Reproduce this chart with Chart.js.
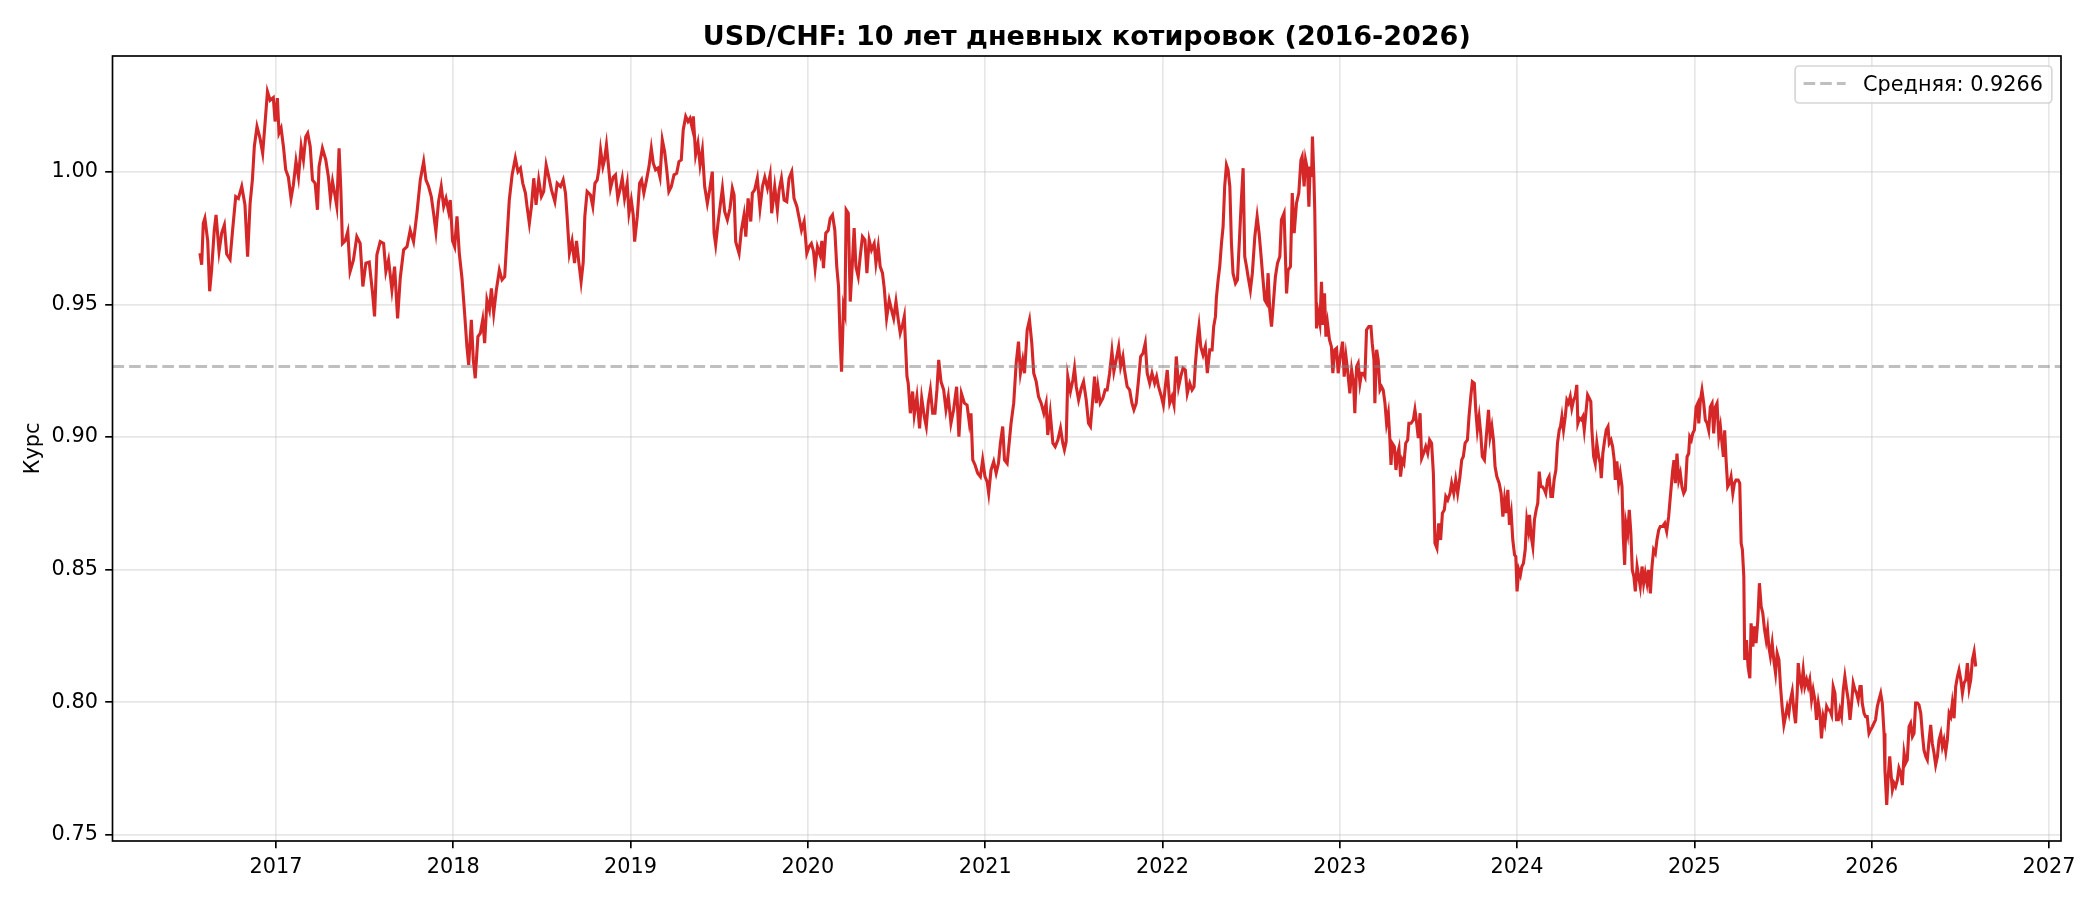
<!DOCTYPE html>
<html>
<head>
<meta charset="utf-8">
<script src="https://cdn.jsdelivr.net/npm/chart.js@4.4.1/dist/chart.umd.min.js"></script>
<style>
html,body{margin:0;padding:0;background:#ffffff;}
#wrap{width:2100px;height:900px;position:relative;}
canvas{display:block;}
</style>
</head>
<body>
<div id="wrap"><canvas id="c" width="2100" height="900"></canvas></div>
<script>
const TITLE = 'USD/CHF: 10 лет дневных котировок (2016-2026)';
const Y_LABEL = 'Курс';
const MEAN = 0.9266;
const MEAN_LABEL = 'Средняя: 0.9266';
const xTicks = [2017, 2018, 2019, 2020, 2021, 2022, 2023, 2024, 2025, 2026, 2027];
const yTicks = [0.75, 0.80, 0.85, 0.90, 0.95, 1.00];
const X_MIN = 2016.078, X_MAX = 2027.068;
const Y_MIN = 0.7477, Y_MAX = 1.0437;

// decimal-year dates of the quotes
const dates = [
2016.571,2016.581,2016.590,2016.599,2016.615,2016.626,2016.637,2016.652,2016.662,2016.679,
2016.694,2016.709,2016.722,2016.741,2016.754,2016.773,2016.788,2016.807,2016.825,2016.840,
2016.854,2016.867,2016.878,2016.893,2016.910,2016.925,2016.938,2016.952,2016.967,2016.985,
2016.995,2017.008,2017.017,2017.029,2017.042,2017.055,2017.070,2017.085,2017.098,2017.113,
2017.127,2017.142,2017.155,2017.168,2017.179,2017.193,2017.206,2017.221,2017.234,2017.243,
2017.262,2017.281,2017.296,2017.307,2017.319,2017.334,2017.343,2017.356,2017.366,2017.375,
2017.390,2017.405,2017.418,2017.437,2017.456,2017.475,2017.490,2017.507,2017.526,2017.545,
2017.556,2017.569,2017.588,2017.607,2017.620,2017.635,2017.654,2017.669,2017.686,2017.701,
2017.720,2017.739,2017.757,2017.776,2017.795,2017.814,2017.833,2017.846,2017.861,2017.876,
2017.889,2017.902,2017.917,2017.932,2017.946,2017.959,2017.974,2017.983,2017.996,2018.008,
2018.021,2018.034,2018.049,2018.064,2018.077,2018.087,2018.102,2018.113,2018.124,2018.139,
2018.153,2018.166,2018.177,2018.190,2018.204,2018.215,2018.228,2018.243,2018.260,2018.275,
2018.290,2018.303,2018.316,2018.332,2018.350,2018.365,2018.379,2018.392,2018.407,2018.416,
2018.429,2018.441,2018.454,2018.467,2018.482,2018.497,2018.510,2018.524,2018.539,2018.554,
2018.573,2018.586,2018.605,2018.620,2018.633,2018.642,2018.655,
2018.670,2018.684,2018.695,2018.708,2018.721,2018.733,2018.742,2018.755,2018.774,2018.787,
2018.799,2018.812,2018.821,2018.831,2018.844,2018.853,2018.864,2018.874,2018.887,2018.902,
2018.915,2018.928,2018.940,2018.953,2018.966,2018.981,2018.991,2019.004,2019.015,2019.023,
2019.038,2019.051,2019.062,2019.075,2019.090,2019.104,2019.117,2019.128,2019.141,2019.154,
2019.166,2019.179,2019.192,2019.203,2019.216,2019.230,2019.245,2019.260,2019.273,2019.286,
2019.297,2019.311,2019.324,2019.335,2019.348,2019.354,2019.367,2019.380,2019.392,2019.405,
2019.418,2019.433,2019.446,2019.461,2019.471,2019.480,2019.493,2019.505,2019.518,2019.531,
2019.546,2019.561,2019.574,2019.584,2019.593,2019.612,2019.625,2019.640,2019.650,2019.663,
2019.678,2019.687,2019.700,2019.715,2019.730,2019.744,2019.757,2019.772,2019.787,2019.796,
2019.813,2019.828,2019.838,2019.851,2019.866,2019.881,2019.894,2019.909,2019.922,2019.938,
2019.951,2019.964,2019.979,2019.994,2020.007,2020.020,2020.032,2020.041,2020.054,2020.069,
2020.079,2020.088,2020.101,2020.115,2020.126,2020.139,2020.152,2020.163,2020.173,2020.182,
2020.190,2020.201,2020.209,2020.216,2020.228,2020.239,2020.250,2020.261,2020.271,2020.284,
2020.295,2020.308,2020.322,2020.333,2020.346,2020.359,2020.374,2020.384,2020.397,2020.408,
2020.421,2020.431,2020.444,2020.459,2020.472,2020.484,2020.497,2020.510,2020.521,2020.534,
2020.544,
2020.548,2020.559,2020.566,2020.578,2020.591,2020.600,2020.615,2020.630,2020.642,2020.657,
2020.668,2020.679,2020.691,2020.704,2020.717,2020.728,2020.738,2020.751,2020.766,2020.779,
2020.792,2020.807,2020.822,2020.839,2020.852,2020.866,2020.883,2020.898,2020.911,2020.920,
2020.930,2020.943,2020.958,2020.973,2020.986,2020.999,2021.011,2021.020,2021.033,2021.048,
2021.062,2021.075,2021.086,2021.099,2021.109,2021.124,2021.137,2021.146,2021.161,2021.175,
2021.188,2021.199,2021.212,2021.222,2021.237,2021.250,2021.263,2021.274,2021.288,2021.301,
2021.316,2021.331,2021.344,2021.353,2021.367,2021.382,2021.395,2021.410,2021.425,2021.438,
2021.447,2021.457,2021.466,2021.481,2021.495,2021.504,2021.514,2021.527,2021.542,2021.555,
2021.570,2021.583,2021.594,2021.608,2021.617,2021.627,2021.636,2021.649,2021.664,2021.677,
2021.688,2021.702,2021.715,2021.726,2021.739,2021.753,2021.764,2021.777,2021.786,2021.801,
2021.815,2021.828,2021.839,2021.852,2021.865,2021.877,2021.890,2021.903,2021.914,2021.928,
2021.941,2021.956,2021.967,2021.978,2021.994,2022.005,2022.016,2022.027,2022.041,2022.054,
2022.065,2022.078,2022.091,2022.103,2022.116,2022.129,2022.140,2022.154,2022.167,2022.178,
2022.186,2022.197,2022.206,2022.216,2022.229,2022.242,2022.253,2022.267,2022.280,2022.289,
2022.299,2022.304,2022.314,2022.323,2022.333,2022.342,2022.351,2022.361,2022.370,2022.380,
2022.389,2022.398,2022.412,2022.423,2022.436,2022.445,2022.455,2022.464,2022.474,2022.483,
2022.496,2022.507,2022.521,2022.534,2022.545,2022.555,2022.564,2022.577,2022.587,2022.596,
2022.605,2022.615,2022.624,2022.637,2022.649,2022.662,2022.671,2022.686,2022.700,2022.709,
2022.722,2022.732,2022.743,2022.756,2022.769,2022.781,
2022.788,2022.799,2022.807,2022.818,2022.826,2022.833,2022.841,2022.846,2022.854,2022.859,
2022.863,2022.869,2022.878,2022.888,2022.897,2022.905,2022.914,2022.922,2022.931,2022.942,
2022.953,2022.961,2022.972,2022.982,2022.991,2023.003,2023.016,2023.025,2023.035,2023.044,
2023.057,2023.067,2023.078,2023.085,2023.095,2023.104,2023.114,2023.123,2023.133,2023.142,
2023.151,2023.164,2023.176,2023.183,2023.193,2023.198,2023.208,2023.217,2023.227,2023.236,
2023.245,2023.255,2023.264,2023.274,2023.283,2023.289,2023.296,2023.308,2023.317,2023.327,
2023.334,2023.343,2023.353,2023.362,2023.372,2023.383,2023.390,2023.402,2023.415,2023.424,
2023.434,2023.443,2023.453,2023.462,2023.473,2023.485,2023.496,2023.507,2023.518,2023.528,
2023.537,2023.548,2023.558,2023.569,2023.579,2023.590,2023.598,2023.609,2023.622,2023.631,
2023.643,2023.654,2023.665,2023.678,2023.688,2023.697,2023.707,2023.720,2023.729,2023.739,
2023.748,2023.759,2023.767,2023.776,2023.786,2023.795,2023.804,2023.816,2023.825,2023.839,
2023.848,2023.858,2023.867,2023.876,2023.886,2023.899,2023.910,2023.920,2023.929,2023.937,
2023.948,2023.957,2023.967,2023.976,2023.986,2023.993,2024.000,2024.010,2024.019,2024.027,
2024.036,2024.046,2024.055,2024.064,2024.070,2024.080,2024.089,2024.098,2024.108,2024.117,
2024.125,2024.134,2024.143,2024.155,2024.162,2024.172,2024.181,2024.191,2024.200,2024.209,
2024.219,2024.228,2024.238,2024.245,2024.253,2024.262,2024.272,2024.281,2024.290,2024.300,
2024.309,2024.319,2024.328,2024.337,2024.343,2024.352,2024.362,2024.371,2024.379,2024.388,
2024.398,2024.407,2024.416,2024.422,2024.432,2024.441,2024.450,2024.460,2024.469,2024.475,
2024.484,2024.494,2024.503,2024.513,2024.520,2024.530,2024.539,2024.548,2024.554,2024.563,
2024.573,2024.582,2024.592,2024.599,2024.607,2024.614,2024.624,2024.633,2024.642,2024.650,
2024.659,2024.667,2024.677,2024.686,2024.695,2024.705,2024.714,2024.723,2024.733,2024.742,
2024.752,2024.761,2024.770,2024.780,2024.789,2024.799,2024.808,2024.821,2024.833,2024.844,
2024.855,2024.863,
2024.878,2024.885,2024.893,2024.902,2024.912,2024.921,2024.930,2024.940,2024.949,2024.959,
2024.968,2024.974,2024.983,2024.991,2025.000,2025.010,2025.019,2025.025,2025.034,2025.043,
2025.053,2025.062,2025.072,2025.081,2025.090,2025.100,2025.109,2025.119,2025.128,2025.138,
2025.147,2025.156,2025.164,2025.171,2025.179,2025.188,2025.198,2025.207,2025.217,2025.226,
2025.235,2025.247,2025.256,2025.264,2025.271,2025.279,2025.284,2025.294,2025.303,2025.313,
2025.320,2025.330,2025.339,2025.348,2025.358,2025.367,2025.377,2025.386,2025.396,2025.405,
2025.413,2025.420,2025.429,2025.439,2025.448,2025.458,2025.467,2025.477,2025.486,2025.495,
2025.505,2025.514,2025.524,2025.533,2025.542,2025.552,2025.561,2025.571,2025.580,2025.586,
2025.595,2025.604,2025.614,2025.623,2025.633,2025.642,2025.651,2025.661,2025.670,2025.680,
2025.689,2025.699,2025.708,2025.717,2025.727,2025.736,2025.746,2025.755,2025.764,2025.774,
2025.783,2025.793,2025.802,2025.812,2025.821,2025.830,2025.840,2025.849,2025.859,2025.868,
2025.878,2025.887,2025.896,2025.906,2025.915,2025.924,2025.934,2025.941,2025.947,2025.957,
2025.966,2025.975,2025.985,2025.994,2026.004,2026.013,2026.022,2026.032,2026.041,2026.051,
2026.060,2026.070,2026.075,2026.085,2026.092,2026.102,2026.109,2026.117,2026.126,2026.135,
2026.145,2026.154,2026.164,2026.173,2026.183,2026.192,2026.201,2026.211,2026.220,2026.230,
2026.239,2026.248,2026.258,2026.267,2026.277,2026.286,2026.295,2026.305,2026.314,2026.324,
2026.333,2026.342,2026.352,2026.361,2026.371,2026.380,2026.390,2026.399,2026.408,2026.418,
2026.427,2026.437,2026.446,2026.455,2026.465,2026.474,2026.484,2026.493,2026.503,2026.512,
2026.521,2026.531,2026.540,2026.550,2026.559,2026.568,2026.578,2026.587
];

// USD/CHF rates
const rates = [
0.9693,0.965,0.9806,0.9825,0.974,0.955,0.963,0.978,0.9838,0.970,
0.977,0.980,0.969,0.967,0.977,0.9907,0.990,0.9945,0.9876,0.968,
0.988,0.997,1.0096,1.0171,1.0127,1.007,1.018,1.0303,1.027,1.028,
1.019,1.0278,1.0146,1.0165,1.0096,1.0008,0.998,0.990,0.995,1.004,
0.998,1.0096,1.0045,1.0133,1.0146,1.0096,0.997,0.9957,0.9857,1.002,
1.0089,1.0045,0.998,0.990,0.9964,0.9907,0.987,1.0089,0.9932,0.973,
0.974,0.9775,0.9624,0.9668,0.9756,0.973,0.9568,0.9656,0.966,0.9542,
0.9455,0.9687,0.9737,0.973,0.9624,0.9668,0.9555,0.9643,0.9448,0.960,
0.9706,0.9718,0.978,0.9737,0.9844,0.997,1.0039,0.997,0.9945,0.9907,
0.9844,0.9775,0.9888,0.9945,0.987,0.990,0.985,0.9894,0.974,0.9718,
0.9832,0.9693,0.960,0.9467,0.9341,0.9272,0.9442,0.9291,0.9222,0.9379,
0.9392,0.9442,0.9354,0.9517,0.948,0.9561,0.9467,0.9555,0.963,0.9593,
0.9605,0.975,0.9894,0.9989,1.0052,1.0001,1.0014,0.9957,0.992,0.987,
0.9806,0.987,0.9976,0.9876,0.997,0.9907,0.9926,1.0026,0.998,0.9932,
0.9888,0.9957,0.9945,0.997,0.992,0.9832,0.9693,
0.974,0.9656,0.974,0.966,0.9586,0.966,0.9832,0.9926,0.9913,0.987,
0.9957,0.997,1.0008,1.0083,1.002,1.0045,1.0102,1.0033,0.9938,0.998,
0.9989,0.990,0.9932,0.9976,0.990,0.9957,0.9844,0.9894,0.9838,0.9737,
0.9832,0.9957,0.997,0.992,0.997,1.002,1.0089,1.0033,1.0008,1.0014,
0.998,1.0121,1.0077,1.0014,0.9926,0.9945,0.9989,0.9995,1.0039,1.0045,
1.0158,1.0209,1.019,1.0202,1.0165,1.0209,1.0064,1.0108,1.0026,1.0083,
0.9945,0.9882,0.9932,1.0001,0.9769,0.9725,0.9806,0.987,0.9938,0.985,
0.9819,0.9863,0.9938,0.9913,0.9737,0.9693,0.978,0.9838,0.9756,0.990,
0.9813,0.992,0.9932,0.9976,0.9863,0.9945,0.998,0.9938,0.9989,0.9844,
0.9945,0.9857,0.9932,0.9976,0.9894,0.9888,0.9976,1.0001,0.990,0.987,
0.9825,0.978,0.9813,0.9693,0.9718,0.973,0.970,0.9637,0.9718,0.9687,
0.974,0.9637,0.9769,0.978,0.9825,0.9838,0.978,0.9643,0.9568,0.9367,
0.9247,0.9492,0.9467,0.9857,0.9844,0.9511,0.9643,0.9788,0.9643,0.9605,
0.968,0.9756,0.9743,0.9618,0.9743,0.9706,0.973,0.9656,0.9718,0.9643,
0.9618,0.9561,0.9448,0.9517,0.948,0.9448,0.9511,0.9442,0.9392,0.9423,
0.9455,
0.9392,0.9228,0.9203,0.909,0.9172,0.9084,0.9153,0.9033,0.9147,0.9077,
0.904,0.9128,0.9178,0.909,0.909,0.9178,0.9291,0.9209,0.9178,0.9103,
0.9153,0.9052,0.9103,0.919,0.9002,0.9165,0.9128,0.9121,0.9052,0.909,
0.8914,0.8895,0.8864,0.8851,0.8914,0.8851,0.8832,0.8788,0.8876,0.8908,
0.8864,0.8901,0.8977,0.904,0.8914,0.8901,0.8989,0.9052,0.9128,0.9279,
0.936,0.9241,0.9291,0.9241,0.9404,0.9442,0.9354,0.9241,0.9209,0.9153,
0.9128,0.909,0.9128,0.9008,0.909,0.8977,0.8964,0.8989,0.9033,0.8977,
0.8952,0.8983,0.9228,0.9172,0.9216,0.926,0.919,0.914,0.9184,0.9209,
0.914,0.9052,0.904,0.9153,0.9228,0.9128,0.919,0.9128,0.9147,0.9178,
0.9178,0.9241,0.9323,0.9247,0.9291,0.9341,0.9266,0.9304,0.9253,0.919,
0.9178,0.9128,0.9103,0.9128,0.9216,0.9304,0.9316,0.9354,0.9241,0.9203,
0.9241,0.9203,0.9228,0.919,0.9153,0.9121,0.919,0.9253,0.9128,0.9153,
0.9121,0.9304,0.919,0.9228,0.926,0.9253,0.9165,0.9203,0.9178,0.919,
0.9279,0.9367,0.9417,0.9341,0.931,0.9341,0.9241,0.9329,0.9329,0.9417,
0.9455,0.9524,0.9593,0.9643,0.9731,0.9794,0.9945,1.0026,1.0008,0.9945,
0.9731,0.9618,0.958,0.9593,0.9769,0.9894,1.0014,0.9681,0.9643,0.9605,
0.9555,0.9618,0.9756,0.9832,0.9769,0.9693,0.9618,0.9517,0.9505,0.9618,
0.948,0.9417,0.9492,0.9605,0.9656,0.9681,0.9819,0.9844,0.9542,0.963,
0.9643,0.992,0.9769,0.9882,0.992,1.0045,
1.0058,0.9945,1.0045,1.0008,0.9869,1.002,0.9982,1.0133,0.9982,0.9857,
0.9668,0.941,0.9467,0.9429,0.9586,0.9423,0.9542,0.9379,0.9429,0.9367,
0.9341,0.9241,0.9329,0.9335,0.9241,0.9304,0.936,0.9228,0.9304,0.9253,
0.9165,0.9253,0.9203,0.909,0.9266,0.9279,0.9203,0.9241,0.9241,0.9228,
0.9404,0.9417,0.9417,0.9354,0.9291,0.9128,0.9329,0.9291,0.9178,0.919,
0.9178,0.9128,0.9052,0.909,0.8989,0.8895,0.8977,0.8964,0.8876,0.8939,
0.8958,0.8851,0.8914,0.8901,0.8977,0.8989,0.9052,0.9052,0.9065,0.9103,
0.9052,0.8996,0.909,0.892,0.8939,0.8964,0.8939,0.8989,0.8977,0.8864,
0.860,0.8581,0.8675,0.8612,0.8713,0.8726,0.8776,0.8763,0.8788,0.8826,
0.8788,0.8839,0.8788,0.8851,0.8914,0.8927,0.8977,0.8989,0.9077,0.9153,
0.9209,0.9203,0.9103,0.9027,0.9077,0.9015,0.8927,0.8914,0.8989,0.9103,
0.9002,0.904,0.8989,0.8889,0.8851,0.8826,0.8788,0.870,0.8763,0.8713,
0.8801,0.8669,0.8713,0.8612,0.8556,0.855,0.8418,0.8499,0.848,0.8512,
0.8524,0.8575,0.8688,0.865,0.8707,0.8625,0.8587,0.8688,0.8726,0.8751,
0.887,0.8813,0.8813,0.8801,0.8788,0.8839,0.8851,0.8776,0.8776,0.8839,
0.8876,0.8977,0.9027,0.904,0.9077,0.9027,0.9077,0.914,0.9128,0.9153,
0.9109,0.914,0.9153,0.9197,0.9052,0.9071,0.9065,0.9077,0.9027,0.909,
0.9159,0.9147,0.9134,0.9027,0.8927,0.8901,0.8977,0.8927,0.8901,0.8845,
0.8939,0.8989,0.9027,0.904,0.8977,0.8989,0.8964,0.8914,0.8839,0.8908,
0.8826,0.8864,0.8813,0.8625,0.8518,0.8675,0.8637,0.8726,0.8637,0.8499,
0.8474,0.8418,0.8512,0.8474,0.8436,0.8512,0.8449,0.8487,0.8449,0.8499,
0.8411,0.8512,0.8575,0.8562,0.8612,0.865,0.8663,0.8663,0.8675,0.8644,
0.870,0.8763,
0.8876,0.8913,0.8826,0.8938,0.8838,0.8863,0.8813,0.8788,0.88,0.8926,
0.8938,0.9001,0.8989,0.9014,0.9026,0.9114,0.9127,0.9052,0.9139,0.9177,
0.9127,0.9064,0.9052,0.9026,0.9114,0.9127,0.9014,0.9114,0.9127,0.9001,
0.9039,0.8976,0.8926,0.9026,0.8913,0.8813,0.8826,0.8851,0.8788,0.8826,
0.8838,0.8838,0.8826,0.860,0.8575,0.8474,0.816,0.8235,0.8135,0.8091,
0.8298,0.821,0.8286,0.8223,0.831,0.8449,0.8361,0.8336,0.8273,0.8235,
0.8273,0.821,0.8173,0.8223,0.816,0.811,0.8185,0.816,0.8059,0.7984,
0.7915,0.7946,0.7984,0.7959,0.8009,0.8041,0.7971,0.7921,0.8034,0.8148,
0.8085,0.8059,0.8122,0.8059,0.8085,0.8059,0.8085,0.8009,0.8047,0.8009,
0.7934,0.7997,0.7959,0.7864,0.7946,0.7921,0.7984,0.7971,0.7971,0.7952,
0.8059,0.8034,0.7934,0.7934,0.7971,0.7946,0.8047,0.8097,0.8047,0.8009,
0.7934,0.7997,0.8072,0.8047,0.8034,0.8009,0.8059,0.8059,0.7997,0.7959,
0.7946,0.7946,0.7883,0.7896,0.7908,0.7921,0.7934,0.7984,0.8009,0.8034,
0.7997,0.7883,0.7745,0.7613,0.7707,0.7796,0.7733,0.767,0.7695,0.7682,
0.7707,0.7752,0.7733,0.7688,0.7808,0.7771,0.7783,0.7908,0.7921,0.7871,
0.7883,0.7997,0.7997,0.799,0.7959,0.7883,0.782,0.7796,0.7783,0.7858,
0.7915,0.7845,0.7808,0.7764,0.7796,0.7858,0.7883,0.7833,0.7858,0.7814,
0.7858,0.7959,0.7946,0.7997,0.794,0.8059,0.8097,0.8122,0.8085,0.8034,
0.8072,0.8085,0.8148,0.8053,0.8085,0.816,0.8191,0.8135
];

const FONT = '"DejaVu Sans", "Liberation Sans", sans-serif';
Chart.defaults.font.family = FONT;
Chart.defaults.color = '#000000';

const n = Math.min(dates.length, rates.length);
const pricePoints = [];
for (let i = 0; i < n; i++) pricePoints.push({x: dates[i], y: rates[i]});

const GRID = 'rgba(176,176,176,0.3)';
const SPINE = '#000000';

const framePlugin = {
  id: 'frame',
  afterDraw(chart) {
    const {ctx, chartArea: a} = chart;
    ctx.save();
    ctx.strokeStyle = SPINE;
    ctx.lineWidth = 1.67;
    ctx.strokeRect(a.left, a.top, a.right - a.left, a.bottom - a.top);
    ctx.restore();
  }
};

const legendPlugin = {
  id: 'legendBox',
  afterDatasetsDraw(chart) {
    const {ctx, chartArea: a} = chart;
    const ds = chart.data.datasets[1];
    ctx.save();
    ctx.font = '20.8px ' + FONT;
    const tw = ctx.measureText(ds.label).width;
    const padL = 8.5, handle = 42, gap = 17.4, padR = 8.9, h = 37;
    const right = a.right - 9.2;
    const top = a.top + 10;
    const w = padL + handle + gap + tw + padR;
    const left = right - w;
    ctx.beginPath();
    if (ctx.roundRect) ctx.roundRect(left, top, w, h, 4); else ctx.rect(left, top, w, h);
    ctx.fillStyle = 'rgba(255,255,255,0.8)';
    ctx.fill();
    ctx.strokeStyle = 'rgba(204,204,204,0.8)';
    ctx.lineWidth = 1.67;
    ctx.stroke();
    const cy = top + h / 2 - 1;
    ctx.beginPath();
    ctx.setLineDash(ds.borderDash);
    ctx.strokeStyle = ds.borderColor;
    ctx.lineWidth = ds.borderWidth;
    ctx.moveTo(left + padL, cy);
    ctx.lineTo(left + padL + handle, cy);
    ctx.stroke();
    ctx.setLineDash([]);
    ctx.fillStyle = '#000000';
    ctx.textAlign = 'left';
    ctx.textBaseline = 'middle';
    ctx.fillText(ds.label, left + padL + handle + gap, top + h / 2 + 1);
    ctx.restore();
  }
};

new Chart(document.getElementById('c'), {
  type: 'line',
  data: {
    datasets: [
      {
        label: 'USD/CHF',
        data: pricePoints,
        borderColor: '#d62728',
        borderWidth: 3.1,
        pointRadius: 0,
        tension: 0,
        fill: false,
        order: 2
      },
      {
        label: MEAN_LABEL,
        data: [{x: X_MIN, y: MEAN}, {x: X_MAX, y: MEAN}],
        borderColor: 'rgba(128,128,128,0.5)',
        borderWidth: 3,
        borderDash: [11.6, 5],
        pointRadius: 0,
        fill: false,
        order: 1
      }
    ]
  },
  options: {
    responsive: false,
    maintainAspectRatio: false,
    animation: false,
    devicePixelRatio: 1,
    events: [],
    layout: {padding: {left: 0, right: 39, top: 0, bottom: 0}},
    plugins: {
      legend: {display: false},
      tooltip: {enabled: false},
      title: {
        display: true,
        fullSize: false,
        text: TITLE,
        color: '#000000',
        font: {size: 27, weight: 'bold', family: FONT, lineHeight: 1.2},
        padding: {top: 21.3, bottom: 2.3}
      }
    },
    scales: {
      x: {
        type: 'linear',
        min: X_MIN,
        max: X_MAX,
        afterBuildTicks: (s) => { s.ticks = xTicks.map(v => ({value: v})); },
        afterFit: (s) => { s.height = 59; },
        ticks: {
          font: {size: 20.8, family: FONT},
          color: '#000000',
          padding: 7.3,
          maxRotation: 0,
          autoSkip: false,
          callback: (v) => String(v)
        },
        grid: {color: GRID, lineWidth: 1.67, tickLength: 7.3, tickColor: SPINE, tickWidth: 1.67},
        border: {display: false}
      },
      y: {
        type: 'linear',
        min: Y_MIN,
        max: Y_MAX,
        afterBuildTicks: (s) => { s.ticks = yTicks.map(v => ({value: v})); },
        afterFit: (s) => { s.width = 112.5; },
        ticks: {
          font: {size: 20.8, family: FONT},
          color: '#000000',
          padding: 7.3,
          autoSkip: false,
          callback: (v) => Number(v).toFixed(2)
        },
        grid: {color: GRID, lineWidth: 1.67, tickLength: 7.3, tickColor: SPINE, tickWidth: 1.67},
        border: {display: false},
        title: {
          display: true,
          text: Y_LABEL,
          color: '#000000',
          font: {size: 20.8, family: FONT, lineHeight: 1.2},
          padding: {top: 21, bottom: 0}
        }
      }
    }
  },
  plugins: [legendPlugin, framePlugin]
});
</script>
</body>
</html>
